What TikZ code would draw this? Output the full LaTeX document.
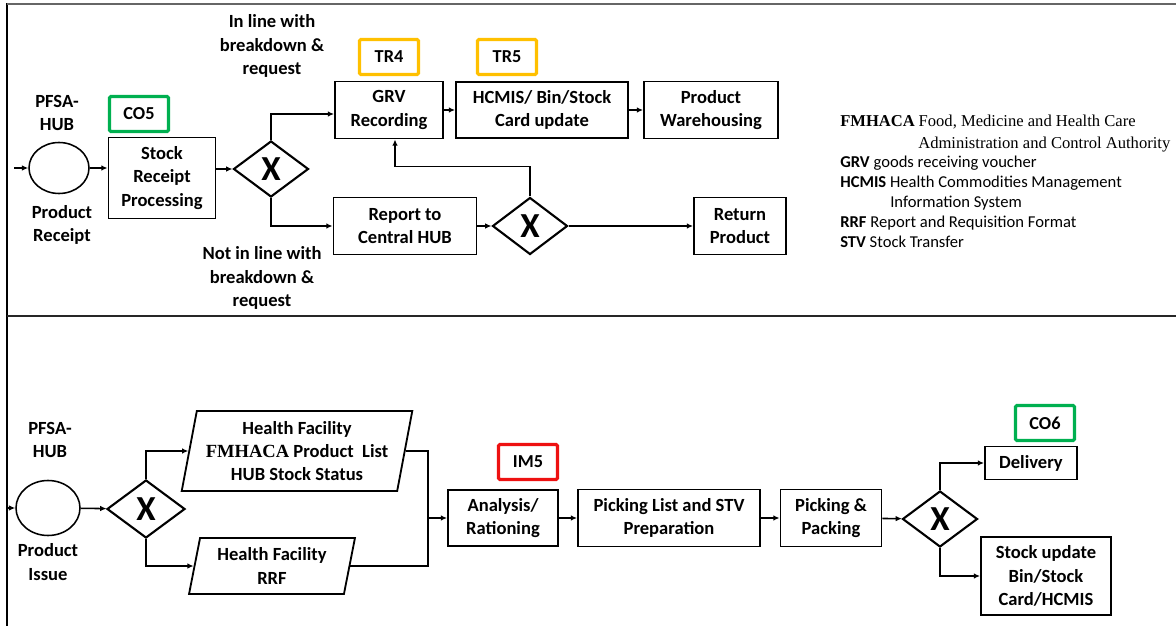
\documentclass[tikz,border=0pt]{standalone}
\usepackage{fontspec}
\setmainfont{Carlito}
\newfontfamily\tnr{Liberation Serif}
\usetikzlibrary{shapes.geometric,arrows.meta}

\definecolor{cogreen}{HTML}{00B050}
\definecolor{trorange}{HTML}{FFC000}
\definecolor{imred}{HTML}{EE1111}

\tikzset{
  txt/.style={font=\bfseries\fontsize{13.2}{16.5}\selectfont, align=center, inner sep=0pt},
  proc/.style={txt, draw, line width=1.3pt, rectangle},
  tag/.style={draw=#1, line width=2.2pt, rounded corners=1pt, inner sep=0pt,
    minimum width=14.75mm, minimum height=8.75mm, font=\bfseries\fontsize{13}{13}\selectfont},
  gate/.style={draw, diamond, line width=1.5pt, inner sep=0pt,
    minimum width=18.75mm, minimum height=14mm, font=\bfseries\fontsize{25}{25}\selectfont},
  evt/.style={draw, ellipse, line width=1.1pt, inner sep=0pt},
  io/.style={txt, draw, line width=1.3pt, trapezium, trapezium left angle=77,
    trapezium right angle=103, trapezium stretches=true},
  flow/.style={line width=1.1pt, -{Latex[length=4.5pt,width=4pt]}},
  legend/.style={anchor=base west, inner sep=0pt, font=\fontsize{11.8}{14}\selectfont}
}

\begin{document}
\begin{tikzpicture}[x=0.25mm,y=-0.25mm]
\useasboundingbox (0,0) rectangle (1176,626);
% frame
\draw[line width=1.2pt] (7,3)--(7,626);
\draw[gray!80!black, line width=1.5pt] (7,4)--(1176,4);
\draw[black!85, line width=1.8pt] (7,316)--(1176,316);

% receipt
\node[txt] (hub1) at (57,113) {PFSA-\\HUB};
\node[evt, minimum width=15mm, minimum height=12.75mm] (rcv) at (59,168) {};
\node[txt] (rcvlbl) at (62,225) {Product\\Receipt};
\coordinate (in1) at (14,168);
\node[tag=cogreen] (co5) at (139,114) {CO5};
\node[proc, minimum width=26.75mm, minimum height=20.25mm] (srp) at (162,178) {Stock\\Receipt\\Processing};
\node[gate] (g1) at (271,169) {X};
\node[txt] (inl) at (272,46) {In line with\\breakdown \&\\request};
\node[txt] (notinl) at (262,278) {Not in line with\\breakdown \&\\request};
\node[tag=trorange] (tr4) at (389,57) {TR4};
\node[proc, minimum width=27mm, minimum height=14.25mm] (grv) at (389,110) {GRV\\Recording};
\node[tag=trorange] (tr5) at (507,57) {TR5};
\node[proc, minimum width=43mm, minimum height=14mm] (bin) at (542,110) {HCMIS/ Bin/Stock\\Card update};
\node[proc, minimum width=33.5mm, minimum height=14.25mm] (ware) at (711,110) {Product\\Warehousing};
\node[proc, minimum width=35.75mm, minimum height=14.25mm] (rep) at (405,226) {Report to\\Central HUB};
\node[gate, minimum height=14.25mm] (g2) at (530,226) {X};
\node[proc, minimum width=23mm, minimum height=14.25mm] (ret) at (740,226) {Return\\Product};

\draw[flow] (in1) -- (rcv);
\draw[flow] (rcv) -- (rcv -| srp.west);
\draw[flow] (srp.east |- g1) -- (g1);
\draw[flow] (g1.north) |- ([yshift=-1mm]grv.west);
\draw[flow] (g1.south) |- (rep.west);
\draw[flow] (grv) -- (bin);
\draw[flow] (bin) -- (ware);
\draw[flow] (rep) -- (g2);
\draw[flow] (g2) -- (ret);
\draw[flow] (g2.north) -- ++(0,-30) -| ([xshift=1.5mm]grv.south);

% legend
\node[legend] (lg1) at (840,127) {{\tnr\bfseries FMHACA} {\tnr Food, Medicine and Health Care}};
\node[legend] (lg2) at (918,149) {\tnr Administration and Control Authority};
\node[legend] (lg3) at (840,168) {\textbf{GRV} goods receiving voucher};
\node[legend] (lg4) at (840,188) {\textbf{HCMIS} Health Commodities Management};
\node[legend] (lg5) at (890,208) {Information System};
\node[legend] (lg6) at (840,228) {\textbf{RRF} Report and Requisition Format};
\node[legend] (lg7) at (840,248) {\textbf{STV} Stock Transfer};

% issue
\node[txt] (hub2) at (50,440) {PFSA-\\HUB};
\node[evt, minimum width=16mm, minimum height=13.75mm] (iss) at (48,508) {};
\node[txt] (isslbl) at (48,562) {Product\\Issue};
\coordinate (in2) at (7,508);
\node[gate, minimum width=19.5mm, minimum height=14.5mm] (g3) at (146,509) {X};
\node[io, minimum width=57.75mm, minimum height=20mm] (hfl) at (297,451) {Health Facility\\{\tnr FMHACA} Product\ \ List\\HUB Stock Status};
\node[io, minimum width=41.75mm, minimum height=14mm] (rrf) at (272,566) {Health Facility\\RRF};
\coordinate (mrg) at (428,518);
\node[tag=imred] (im5) at (528,462) {IM5};
\node[proc, minimum width=27.5mm, minimum height=14mm] (ana) at (503,518) {Analysis/\\Rationing};
\node[proc, minimum width=45.5mm, minimum height=14.25mm] (pl) at (669,518) {Picking List and STV\\Preparation};
\node[proc, minimum width=25.25mm, minimum height=14.25mm] (pp) at (831,518) {Picking \&\\Packing};
\node[gate] (g4) at (940,519) {X};
\node[tag=cogreen] (co6) at (1045,423) {CO6};
\node[proc, minimum width=23mm, minimum height=8.25mm] (dlv) at (1031,463) {Delivery};
\node[proc, minimum width=32.5mm, minimum height=19.5mm] (stk) at (1046,576) {Stock update\\Bin/Stock\\Card/HCMIS};

\draw[flow] (in2) -- (iss);
\draw[flow] (iss) -- (g3);
\draw[flow] (g3.north) |- (hfl);
\draw[flow] (g3.south) |- (rrf);
\draw[line width=1.1pt] (hfl) -| (mrg);
\draw[line width=1.1pt] (rrf) -| (mrg);
\draw[flow] (mrg) -- (ana);
\draw[flow] (ana) -- (pl);
\draw[flow] (pl) -- (pp);
\draw[flow] (pp) -- (g4);
\draw[flow] (g4.north) |- (dlv);
\draw[flow] (g4.south) |- (stk);
\end{tikzpicture}
\end{document}
